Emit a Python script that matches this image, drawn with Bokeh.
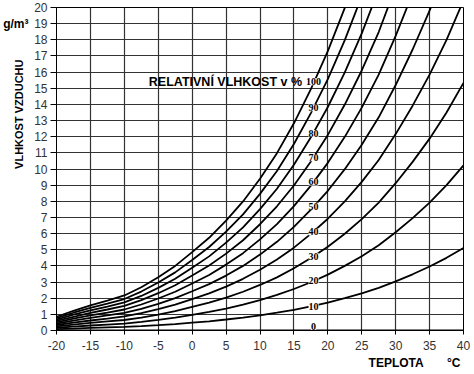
from bokeh.plotting import figure
from bokeh.models import (Range1d, FixedTicker, Label, LabelSet, ColumnDataSource,
                          Title, LinearAxis)
from bokeh.embed import file_html
from bokeh.resources import INLINE

# ---- data ----
temps = [-20, -17.5, -15, -12.5, -10, -7.5, -5, -2.5, 0, 2.5, 5, 7.5, 10, 12.5,
         15, 17.5, 20, 22.5, 25, 27.5, 30, 32.5, 35, 37.5, 40]

rh100 = [0.85, 1.22, 1.55, 1.85, 2.17, 2.68, 3.3, 4.0, 4.85, 5.74, 6.8, 7.99, 9.4, 10.98,
         12.83, 14.95, 17.3, 19.98, 23.0]
rh90 = [0.77, 1.10, 1.40, 1.67, 1.95, 2.41, 2.97, 3.6, 4.37, 5.17, 6.12, 7.19, 8.46, 9.88,
        11.55, 13.46, 15.57, 17.98, 20.7]
rh80 = [0.68, 0.98, 1.24, 1.48, 1.74, 2.14, 2.64, 3.2, 3.88, 4.59, 5.44, 6.39, 7.52, 8.78,
        10.26, 11.96, 13.84, 15.98, 18.4, 21.12]
rh70 = [0.60, 0.85, 1.09, 1.30, 1.52, 1.88, 2.31, 2.8, 3.40, 4.02, 4.76, 5.59, 6.58, 7.69,
        8.98, 10.47, 12.11, 13.99, 16.1, 18.48, 21.28]
rh60 = [0.51, 0.73, 0.93, 1.11, 1.30, 1.61, 1.98, 2.4, 2.91, 3.44, 4.08, 4.79, 5.64, 6.59,
        7.70, 8.97, 10.38, 11.99, 13.8, 15.84, 18.24, 20.88]
rh50 = [0.43, 0.61, 0.78, 0.93, 1.09, 1.34, 1.65, 2.0, 2.43, 2.87, 3.40, 4.00, 4.70, 5.49,
        6.42, 7.48, 8.65, 9.99, 11.5, 13.2, 15.2, 17.4, 19.8, 22.5]
rh40 = [0.34, 0.49, 0.62, 0.74, 0.87, 1.07, 1.32, 1.6, 1.94, 2.30, 2.72, 3.20, 3.76, 4.39,
        5.13, 5.98, 6.92, 7.99, 9.2, 10.56, 12.16, 13.92, 15.84, 18.0, 20.44]
rh30 = [0.26, 0.37, 0.47, 0.56, 0.65, 0.80, 0.99, 1.2, 1.46, 1.72, 2.04, 2.40, 2.82, 3.29,
        3.85, 4.49, 5.19, 5.99, 6.9, 7.92, 9.12, 10.44, 11.88, 13.5, 15.33]
rh20 = [0.17, 0.24, 0.31, 0.37, 0.43, 0.54, 0.66, 0.8, 0.97, 1.15, 1.36, 1.60, 1.88, 2.20,
        2.57, 2.99, 3.46, 4.00, 4.6, 5.28, 6.08, 6.96, 7.92, 9.0, 10.22]
rh10 = [0.09, 0.12, 0.16, 0.19, 0.22, 0.27, 0.33, 0.4, 0.49, 0.57, 0.68, 0.80, 0.94, 1.10,
        1.28, 1.50, 1.73, 2.00, 2.3, 2.64, 3.04, 3.48, 3.96, 4.5, 5.11]
rh0_x = [-20, 40]
rh0 = [0, 0]

curve_labels = ["0", "10", "20", "30", "40", "50", "60", "70", "80", "90", "100"]
curve_label_y = [0.25, 1.5, 3.1, 4.6, 6.1, 7.7, 9.2, 10.7, 12.2, 13.8, 15.4]
curve_label_x = [17.9] * 11

x_ticks = [-20, -15, -10, -5, 0, 5, 10, 15, 20, 25, 30, 35, 40]
y_ticks = list(range(0, 21))

FONT = "Liberation Sans"
NB = "\u00a0"

p = figure(width=472, height=372, output_backend="svg", toolbar_location=None,
           x_range=Range1d(-20, 40), y_range=Range1d(0, 20),
           min_border_left=54, min_border_right=9, min_border_top=7, min_border_bottom=42)

p.background_fill_color = "white"
p.border_fill_color = "white"
p.outline_line_color = "black"
p.outline_line_width = 1

for ax, t in ((p.xaxis, x_ticks), (p.yaxis, y_ticks)):
    ax.ticker = FixedTicker(ticks=t)
    ax.major_label_overrides = {v: str(v) for v in t}
    ax.major_label_text_font = FONT
    ax.major_label_text_font_size = "12px"
    ax.major_label_text_color = "#333333"
    ax.axis_line_color = "black"
    ax.major_tick_line_color = "black"
    ax.major_tick_in = 0
    ax.minor_tick_line_color = None

p.yaxis.major_tick_out = 6
p.yaxis.major_label_standoff = 3
p.xaxis.major_tick_out = 4
p.xaxis.major_label_standoff = 6

p.xgrid.ticker = FixedTicker(ticks=x_ticks)
p.ygrid.ticker = FixedTicker(ticks=y_ticks)
for g in (p.xgrid, p.ygrid):
    g.grid_line_color = "#333333"
    g.grid_line_width = 1.2
    g.grid_line_alpha = 1.0

series = [rh10, rh20, rh30, rh40, rh50, rh60, rh70, rh80, rh90, rh100]
for s in series:
    p.line(temps[:len(s)], s, line_color="black", line_width=1.8)
p.line(rh0_x, rh0, line_color="black", line_width=1.8)

src = ColumnDataSource(dict(x=curve_label_x, y=curve_label_y, t=curve_labels))
p.add_layout(LabelSet(x="x", y="y", text="t", source=src, text_font=FONT,
                      text_font_style="bold", text_font_size="10px",
                      text_align="center", text_baseline="middle",
                      background_fill_color="white", text_color="black"))

p.add_layout(Label(x=16.2, y=15.4, text="RELATIVNÍ VLHKOST v %", text_font=FONT,
                   text_font_style="bold", text_font_size="12.5px", text_color="black",
                   text_align="right", text_baseline="middle"))

# left side: axis title (vertical) and the unit label
ytitle = Title(text="VLHKOST VZDUCHU", align="right", offset=52, standoff=14,
               text_font=FONT, text_font_style="bold", text_font_size="11px",
               text_color="black")
p.add_layout(ytitle, "left")

unit_axis = LinearAxis(ticker=FixedTicker(ticks=[19]), major_label_overrides={19: "g/m³"},
                       axis_line_color=None, major_tick_line_color=None,
                       minor_tick_line_color=None, major_tick_out=0, major_tick_in=0,
                       major_label_standoff=-25, major_label_text_font=FONT,
                       major_label_text_font_style="bold", major_label_text_font_size="12px",
                       major_label_text_color="black")
p.add_layout(unit_axis, "left")

xtitle = Title(text="TEPLOTA" + NB * 7 + "°C", align="right", offset=3, standoff=4,
               vertical_align="middle", text_font=FONT, text_font_style="bold",
               text_font_size="12px", text_color="black")
p.add_layout(xtitle, "below")

open("out.html", "w").write(file_html(p, INLINE))
